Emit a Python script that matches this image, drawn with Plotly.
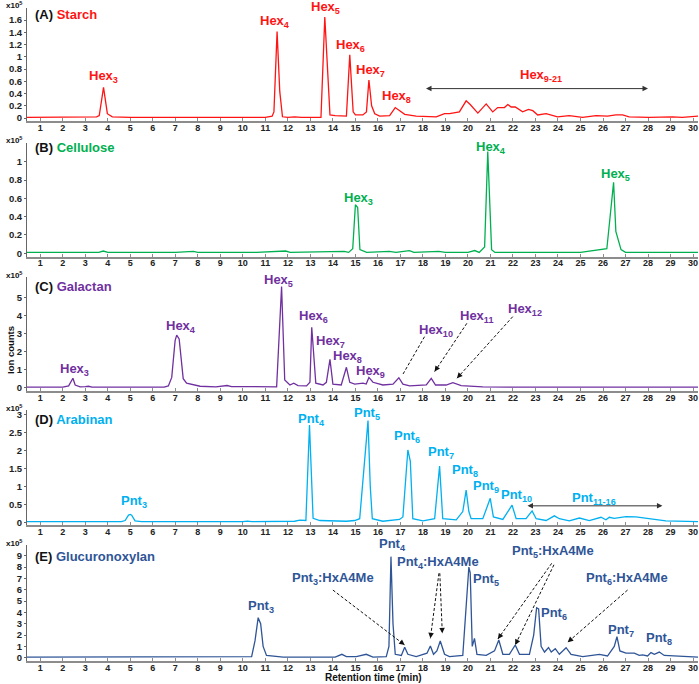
import plotly.graph_objects as go

# ---------------- data (ion counts, x10^5) ----------------
starch_t = [0.4, 1, 2, 3, 3.5, 3.62, 3.81, 3.98, 4.2, 5, 6, 7, 8, 9, 10, 11, 11.3, 11.38, 11.52, 11.64, 11.76,
            12.0, 12.3, 12.6, 13.0, 13.47, 13.64, 13.87, 14.1, 14.3, 14.5, 14.6, 14.75, 14.9, 15.0, 15.33, 15.49,
            15.6, 15.72, 15.86, 16.08, 16.52, 16.77, 16.96, 17.19, 17.7, 18.3, 18.59, 18.96, 19.18, 19.62, 19.92,
            20.1, 20.44, 20.81, 21.1, 21.32, 21.62, 21.77, 21.92, 22.1, 22.43, 22.69, 22.88, 23.1, 23.47, 23.98,
            24.5, 25.09, 25.69, 26.2, 26.57, 26.87, 27.16, 28.05, 29.08, 29.52, 30.25]
starch_v = [0.01, 0.01, 0.01, 0.01, 0.02, 0.04, 0.50, 0.07, 0.02, 0.01, 0.01, 0.01, 0.01, 0.01, 0.01, 0.01, 0.03, 0.10,
            1.41, 0.43, 0.02, 0.01, 0.02, 0.01, 0.01, 0.01, 1.65, 0.05, 0.04, 0.04, 0.03, 0.03, 1.03, 0.10, 0.05,
            0.05, 0.10, 0.62, 0.20, 0.07, 0.03, 0.04, 0.17, 0.12, 0.06, 0.03, 0.03, 0.02, 0.07, 0.07, 0.10, 0.28,
            0.22, 0.08, 0.23, 0.10, 0.17, 0.17, 0.22, 0.18, 0.18, 0.10, 0.14, 0.12, 0.05, 0.07, 0.02, 0.04, 0.01,
            0.04, 0.03, 0.05, 0.05, 0.02, 0.01, 0.02, 0.01, 0.03]

cellulose_t = [0.4, 3.6, 3.8, 4.0, 7.0, 7.8, 8.0, 10.2, 10.4, 10.6, 11.9, 12.1, 14.5, 14.7, 14.88, 15.0, 15.1, 15.2,
               15.5, 16.5, 16.8, 17.4, 17.6, 18.7, 19.0, 20.0, 20.3, 20.5, 20.74, 20.88, 21.05, 21.2, 25.0, 26.17,
               26.47, 26.57, 26.8, 27.0, 30.25]
cellulose_v = [0.01, 0.01, 0.025, 0.01, 0.01, 0.02, 0.01, 0.01, 0.015, 0.01, 0.025, 0.01, 0.02, 0.01, 0.05, 0.53,
               0.50, 0.04, 0.01, 0.02, 0.01, 0.03, 0.01, 0.02, 0.01, 0.01, 0.03, 0.01, 0.07, 1.11, 0.04, 0.01, 0.01,
               0.05, 0.775, 0.24, 0.04, 0.01, 0.01]

galactan_t = [0.4, 2.0, 2.26, 2.45, 2.55, 2.77, 3.0, 3.14, 3.3, 6.5, 6.69, 6.84, 6.99, 7.06, 7.17, 7.28, 7.35, 7.5,
              8.1, 8.8, 9.3, 9.5, 10.5, 10.8, 11.0, 11.5, 11.72, 11.86, 12.09, 12.26, 12.45, 12.83, 12.98, 13.06,
              13.24, 13.56, 13.71, 13.87, 14.0, 14.37, 14.6, 14.75, 14.97, 15.34, 15.48, 15.6, 15.78, 16.22, 16.67,
              16.93, 17.11, 17.41, 18.15, 18.37, 18.56, 19.03, 19.33, 19.7, 20.66, 22.0, 30.25]
galactan_v = [0.03, 0.03, 0.10, 0.52, 0.15, 0.05, 0.06, 0.08, 0.03, 0.03, 0.10, 0.57, 2.60, 2.91, 2.70, 1.50, 0.50,
              0.25, 0.08, 0.05, 0.12, 0.06, 0.05, 0.07, 0.05, 0.05, 5.59, 0.43, 0.15, 0.25, 0.12, 0.10, 0.30, 3.34,
              0.25, 0.15, 0.30, 1.57, 0.20, 0.15, 1.13, 0.30, 0.20, 0.25, 0.20, 0.57, 0.30, 0.15, 0.20, 0.55, 0.20,
              0.10, 0.15, 0.52, 0.15, 0.15, 0.28, 0.12, 0.05, 0.03, 0.03]

arabinan_t = [0.4, 1.5, 1.7, 1.9, 4.6, 4.77, 4.92, 5.0, 5.06, 5.21, 5.5, 10.0, 10.2, 10.4, 12.3, 12.53, 12.8, 12.96,
              13.12, 13.42, 14.6, 14.97, 15.19, 15.56, 15.66, 15.75, 16.22, 16.96, 17.11, 17.33, 17.44, 17.55, 18.0,
              18.52, 18.74, 18.88, 19.48, 19.77, 19.92, 20.04, 20.14, 20.66, 20.99, 21.13, 21.55, 21.96, 22.14,
              22.58, 22.85, 23.03, 23.47, 23.84, 24.06, 24.5, 24.95, 25.39, 25.91, 26.13, 26.28, 26.5, 27.02,
              27.46, 28.05, 28.79, 30.25]
arabinan_v = [0.02, 0.02, 0.035, 0.02, 0.02, 0.05, 0.20, 0.22, 0.20, 0.04, 0.02, 0.02, 0.035, 0.02, 0.03, 0.06,
              0.05, 2.72, 0.11, 0.05, 0.03, 0.05, 0.10, 2.84, 1.00, 0.10, 0.03, 0.08, 0.15, 2.02, 1.70, 0.10, 0.04,
              0.10, 1.57, 0.10, 0.07, 0.30, 0.90, 0.30, 0.10, 0.10, 0.67, 0.15, 0.08, 0.48, 0.10, 0.10, 0.32, 0.10,
              0.05, 0.18, 0.10, 0.04, 0.12, 0.05, 0.14, 0.07, 0.14, 0.11, 0.16, 0.15, 0.10, 0.04, 0.02]

gx_t = [0.4, 8.0, 10.2, 10.39, 10.54, 10.68, 10.79, 10.9, 11.05, 11.79, 14.1, 14.4, 14.6, 15.04, 15.48, 15.78,
        16.37, 16.49, 16.58, 16.67, 16.77, 17.04, 17.19, 17.33, 17.7, 18.18, 18.33, 18.47, 18.62, 18.77, 18.96,
        19.18, 19.77, 19.95, 20.04, 20.1, 20.19, 20.29, 20.4, 20.81, 21.18, 21.37, 21.55, 21.84, 22.1, 22.29,
        22.73, 22.92, 23.05, 23.14, 23.25, 23.4, 23.58, 23.7, 23.88, 24.06, 24.36, 24.58, 25.1, 25.84, 26.2,
        26.5, 26.62, 26.75, 27.02, 27.39, 27.61, 27.76, 27.98, 28.13, 28.28, 28.5, 28.72, 30.25]
gx_v = [0.05, 0.05, 0.05, 0.10, 1.50, 3.53, 3.00, 1.00, 0.20, 0.05, 0.05, 0.30, 0.10, 0.10, 0.30, 0.05, 0.10, 1.00,
        8.92, 3.00, 0.30, 0.20, 0.92, 0.30, 0.10, 0.40, 1.03, 0.30, 0.60, 1.47, 0.30, 0.10, 0.20, 5.00, 8.00, 7.50,
        1.00, 1.71, 0.30, 0.20, 0.60, 1.56, 0.30, 0.30, 1.12, 0.30, 0.30, 2.00, 4.41, 4.30, 1.00, 0.50, 0.90, 0.50,
        0.80, 0.30, 0.88, 0.30, 0.10, 0.30, 0.15, 1.00, 1.85, 0.60, 0.40, 0.40, 0.20, 0.25, 0.15, 0.45, 0.30, 0.50,
        0.20, 0.05]

xtick_vals = list(range(1, 31))

# ---------------- layout helpers ----------------
W, H = 699, 684
ML, MR = 27, 1
PW = W - ML - MR
XR = [0.41, 30.22]
FONT = "Arial, Liberation Sans, sans-serif"


def pxx(px):
    return (px - ML) / PW


def pxy(py):
    return 1 - py / H


panels = [
    dict(letter="(A)", name="Starch", color="#FF1414", t=starch_t, v=starch_v,
         p0=118.0, s=61.25, pt=8, pb=121, title_py=15, mult_py=5,
         yt=[0, 0.2, 0.4, 0.6, 0.8, 1, 1.2, 1.4, 1.6],
         ytt=["0", "0.2", "0.4", "0.6", "0.8", "1", "1.2", "1.4", "1.6"],
         labels=[("Hex<sub>3</sub>", 3.79, 0.67), ("Hex<sub>4</sub>", 11.44, 1.57),
                 ("Hex<sub>5</sub>", 13.65, 1.81), ("Hex<sub>6</sub>", 14.79, 1.19),
                 ("Hex<sub>7</sub>", 15.67, 0.77), ("Hex<sub>8</sub>", 16.84, 0.35),
                 ("Hex<sub>9-21</sub>", 23.25, 0.70)]),
    dict(letter="(B)", name="Cellulose", color="#00B050", t=cellulose_t, v=cellulose_v,
         p0=253.3, s=91.6, pt=143, pb=256.5, title_py=148, mult_py=140,
         yt=[0, 0.2, 0.4, 0.6, 0.8, 1], ytt=["0", "0.2", "0.4", "0.6", "0.8", "1"],
         labels=[("Hex<sub>3</sub>", 15.15, 0.60), ("Hex<sub>4</sub>", 21.02, 1.16),
                 ("Hex<sub>5</sub>", 26.57, 0.86)]),
    dict(letter="(C)", name="Galactan", color="#7030A0", t=galactan_t, v=galactan_v,
         p0=387.7, s=18.08, pt=277, pb=390.7, title_py=287, mult_py=275,
         yt=[0, 1, 2, 3, 4, 5], ytt=["0", "1", "2", "3", "4", "5"],
         labels=[("Hex<sub>3</sub>", 2.5, 0.98), ("Hex<sub>4</sub>", 7.25, 3.37),
                 ("Hex<sub>5</sub>", 11.58, 5.92), ("Hex<sub>6</sub>", 13.15, 3.93),
                 ("Hex<sub>7</sub>", 13.9, 2.55), ("Hex<sub>8</sub>", 14.66, 1.70),
                 ("Hex<sub>9</sub>", 15.68, 0.89), ("Hex<sub>10</sub>", 18.59, 3.19),
                 ("Hex<sub>11</sub>", 20.4, 3.93), ("Hex<sub>12</sub>", 22.55, 4.30)]),
    dict(letter="(D)", name="Arabinan", color="#00B0F0", t=arabinan_t, v=arabinan_v,
         p0=522.3, s=35.8, pt=410, pb=525, title_py=419, mult_py=408,
         yt=[0, 0.5, 1, 1.5, 2, 2.5, 3], ytt=["0", "0.5", "1", "1.5", "2", "2.5", "3"],
         labels=[("Pnt<sub>3</sub>", 5.17, 0.58), ("Pnt<sub>4</sub>", 13.05, 2.86),
                 ("Pnt<sub>5</sub>", 15.52, 3.04), ("Pnt<sub>6</sub>", 17.3, 2.39),
                 ("Pnt<sub>7</sub>", 18.8, 1.94), ("Pnt<sub>8</sub>", 19.87, 1.46),
                 ("Pnt<sub>9</sub>", 20.8, 1.01), ("Pnt<sub>10</sub>", 22.14, 0.76),
                 ("Pnt<sub>11-16</sub>", 25.61, 0.67)]),
    dict(letter="(E)", name="Glucuronoxylan", color="#2F5597", t=gx_t, v=gx_v,
         p0=657.7, s=11.33, pt=545, pb=661, title_py=556, mult_py=543,
         yt=list(range(10)), ytt=[str(i) for i in range(10)],
         labels=[("Pnt<sub>3</sub>", 10.79, 4.5), ("Pnt<sub>3</sub>:HxA4Me", 13.99, 7.01),
                 ("Pnt<sub>4</sub>", 16.63, 9.95), ("Pnt<sub>4</sub>:HxA4Me", 18.66, 8.42),
                 ("Pnt<sub>5</sub>", 20.81, 6.86), ("Pnt<sub>5</sub>:HxA4Me", 23.76, 9.36),
                 ("Pnt<sub>6</sub>", 23.84, 3.92), ("Pnt<sub>6</sub>:HxA4Me", 27.07, 7.0),
                 ("Pnt<sub>7</sub>", 26.78, 2.44), ("Pnt<sub>8</sub>", 28.49, 1.71)]),
]

# double-headed arrows: (panel index, x_start, x_end, y)
double_arrows = [(0, 18.07, 28.0, 0.48), (3, 22.58, 28.64, 0.46)]
# dashed arrows: (panel index, tail_x, tail_y, tip_x, tip_y)
dashed_arrows = [
    (2, 18.07, 2.82, 17.09, 0.70), (2, 19.95, 3.56, 18.52, 0.89), (2, 21.99, 3.93, 19.51, 0.52),
    (4, 14.0, 5.97, 17.19, 1.12), (4, 18.71, 7.45, 18.33, 1.71), (4, 18.75, 7.45, 18.86, 2.15),
    (4, 23.72, 8.33, 21.33, 1.65), (4, 23.82, 8.2, 22.1, 1.12), (4, 27.09, 5.97, 24.43, 1.36),
]

fig = go.Figure()
layout = dict(width=W, height=H, margin=dict(l=ML, r=MR, t=0, b=0, autoexpand=False),
              paper_bgcolor="white", plot_bgcolor="white", showlegend=False,
              font=dict(family=FONT, color="#000"))
annotations = []
shapes = []

for i, p in enumerate(panels):
    k = "" if i == 0 else str(i + 1)
    xa, ya = "x" + k, "y" + k
    yr = [(p["p0"] - p["pb"]) / p["s"], (p["p0"] - p["pt"]) / p["s"]]
    dom = [pxy(p["pb"]), pxy(p["pt"])]
    layout["xaxis" + k] = dict(domain=[0, 1], range=XR, anchor=ya, tickmode="array",
                               tickvals=xtick_vals, ticktext=[str(v) for v in xtick_vals],
                               showline=True, linecolor="#8c8c8c", linewidth=2, ticks="inside",
                               ticklen=3, tickcolor="#8c8c8c", showgrid=False, zeroline=False,
                               automargin=False, ticklabelstandoff=-3,
                               tickfont=dict(size=9, family=FONT, color="#222", weight="bold"))
    layout["yaxis" + k] = dict(domain=dom, range=yr, anchor=xa, tickmode="array",
                               tickvals=p["yt"], ticktext=p["ytt"], showline=True,
                               linecolor="#666", linewidth=1, ticks="outside", ticklen=2,
                               tickcolor="#666", showgrid=False, zeroline=False, automargin=False,
                               tickfont=dict(size=9.5, family=FONT, color="#222", weight="bold"))
    fig.add_trace(go.Scatter(x=p["t"], y=p["v"], mode="lines", xaxis=xa, yaxis=ya,
                             line=dict(color=p["color"], width=1.3), hoverinfo="skip"))
    # panel title
    annotations.append(dict(xref=xa, yref="paper", x=0.69, y=pxy(p["title_py"]),
                            xanchor="left", yanchor="middle", showarrow=False,
                            text="<b><span style='color:#111'>%s</span> %s</b>" % (p["letter"], p["name"]),
                            font=dict(size=13, color=p["color"], family=FONT)))
    # multiplier
    annotations.append(dict(xref="paper", yref="paper", x=pxx(4), y=pxy(p["mult_py"]),
                            xanchor="left", yanchor="middle", showarrow=False,
                            text="<b>x10<sup>5</sup></b>", font=dict(size=8, color="#111", family=FONT)))
    for txt, lx, ly in p["labels"]:
        annotations.append(dict(xref=xa, yref="paper", x=lx, y=pxy(p["p0"] - ly * p["s"]),
                                xanchor="center", yanchor="middle",
                                showarrow=False, text="<b>%s</b>" % txt,
                                font=dict(size=13, color=p["color"], family=FONT)))

for (pi, x0, x1, yv) in double_arrows:
    k = "" if pi == 0 else str(pi + 1)
    annotations.append(dict(xref="x" + k, yref="y" + k, axref="x" + k, ayref="y" + k,
                            x=x1, y=yv, ax=x0, ay=yv, text="", showarrow=True,
                            arrowside="end+start", arrowhead=2, arrowsize=1.1, arrowwidth=1,
                            arrowcolor="#333", standoff=0, startstandoff=0))

for (pi, tx, ty, hx, hy) in dashed_arrows:
    k = "" if pi == 0 else str(pi + 1)
    shapes.append(dict(type="line", xref="x" + k, yref="y" + k, x0=tx, y0=ty, x1=hx, y1=hy,
                       line=dict(color="#111", width=1, dash="3px,2px")))
    f = 0.07
    annotations.append(dict(xref="x" + k, yref="y" + k, axref="x" + k, ayref="y" + k,
                            x=hx, y=hy, ax=hx + f * (tx - hx), ay=hy + f * (ty - hy), text="",
                            showarrow=True, arrowhead=2, arrowsize=1.1, arrowwidth=1,
                            arrowcolor="#111", standoff=0))

annotations.append(dict(xref="paper", yref="paper", x=pxx(10), y=pxy(350), textangle=-90,
                        showarrow=False, text="<b>Ion counts</b>", xanchor="center", yanchor="middle",
                        font=dict(size=9.5, color="#111", family=FONT)))
annotations.append(dict(xref="paper", yref="paper", x=pxx(374), y=pxy(677.8), showarrow=False,
                        text="<b>Retention time (min)</b>", xanchor="center", yanchor="middle",
                        font=dict(size=10, color="#111", family=FONT)))

layout["annotations"] = annotations
layout["shapes"] = shapes
fig.update_layout(**layout)
fig.write_html("out.html", config={"displayModeBar": False},
               post_script="document.body.style.margin='0';document.body.style.overflow='hidden';")
